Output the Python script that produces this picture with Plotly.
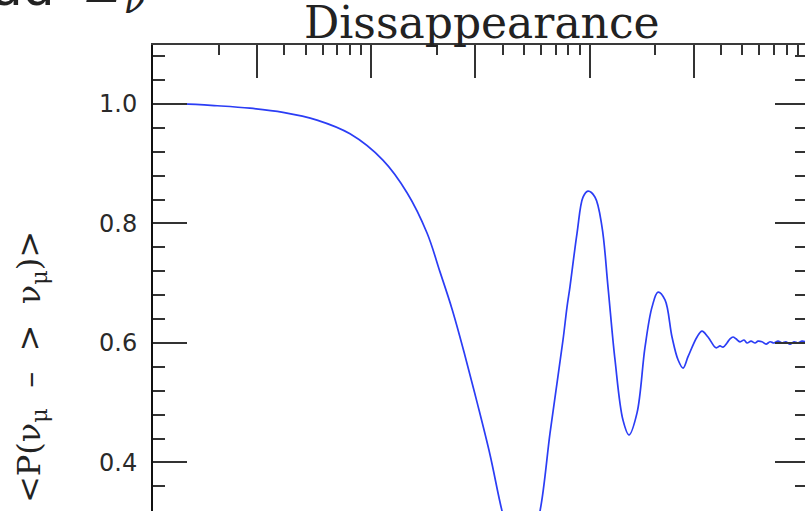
import plotly.graph_objects as go

# ---- data (L/E in arbitrary units, log axis) ----
l_over_e = [
    1.00, 1.37, 1.97, 2.78, 3.94, 5.64, 7.99, 11.3, 14.6, 18.0,
    20.64, 23.43, 26.59, 30.50, 34.98, 39.70, 44.11, 48.51, 53.88,
    59.28, 65.87, 70.91, 75.54, 78.79,
    81.3, 87.6, 93.3, 98.3, 105.9, 114.0, 121.4, 130.7, 142.2,
    151.5, 164.9, 179.4, 193.1, 205.8, 221.5, 238.5, 254.1, 267.9, 282.4,
    310.5, 327.3, 348.6, 379.3, 395.7, 408.5, 426.0, 439.8, 453.8, 468.4,
    488.7, 509.7, 526.1, 548.9, 572.5, 590.8, 616.3, 642.9, 670.6, 699.5,
    729.6, 761.0, 793.8, 828.0, 863.7, 900.8, 939.7, 980.2,
]
prob_mumu = [
    1.000, 1.000, 0.997, 0.993, 0.986, 0.973, 0.950, 0.906, 0.851, 0.784,
    0.719, 0.657, 0.585, 0.501, 0.413, 0.319, 0.260, 0.240, 0.265,
    0.319, 0.449, 0.533, 0.605, 0.660,
    0.694, 0.784, 0.844, 0.854, 0.844, 0.794, 0.694, 0.572, 0.471,
    0.446, 0.483, 0.593, 0.660, 0.685, 0.672, 0.610, 0.572, 0.558, 0.577,
    0.610, 0.620, 0.610, 0.592, 0.595, 0.593, 0.600, 0.607, 0.610, 0.607,
    0.602, 0.605, 0.600, 0.603, 0.600, 0.603, 0.602, 0.598, 0.602, 0.600,
    0.603, 0.600, 0.602, 0.598, 0.602, 0.600, 0.603, 0.602,
]

top_major_ticks = [1, 3, 10, 30, 100, 300, 1000]
top_minor_ticks = [2, 4, 5, 6, 7, 8, 9, 20, 40, 50, 60, 70, 80, 90,
                   200, 400, 500, 600, 700, 800, 900]
y_range = [0.3188, 1.0987]
x_log_range = [0.0, 2.9867]

title_text = "Dissappearance"
ytitle_text = "<P(ν<sub>μ</sub>\u00a0\u00a0–\u00a0\u00a0>\u00a0\u00a0ν<sub>μ</sub>)>"

W, H = 805, 511
L, T = 153, 45
PW, PH = W - L, H - T

def px_to_paper_x(px):
    return (px - L) / PW

def px_to_paper_y(py):
    return (H - py) / PH

fig = go.Figure()
fig.add_trace(go.Scatter(
    x=l_over_e, y=prob_mumu, mode="lines",
    line=dict(color="#2b3df5", width=1.7, shape="spline", smoothing=1.0),
    hoverinfo="skip", showlegend=False,
))
# empty trace so the right-hand (tick-only) axis is drawn
fig.add_trace(go.Scatter(x=[], y=[], yaxis="y2", mode="lines",
                         hoverinfo="skip", showlegend=False))

tick_col = "#333333"
fig.update_layout(
    width=W, height=H,
    margin=dict(l=L, r=0, t=T, b=0, pad=0),
    paper_bgcolor="white", plot_bgcolor="white",
    showlegend=False,
    xaxis=dict(
        type="log", range=x_log_range, side="top",
        showline=True, linecolor="#3a3a3a", linewidth=2,
        ticks="inside", ticklen=33, tickwidth=1.5, tickcolor=tick_col,
        tickmode="array", tickvals=top_major_ticks,
        showticklabels=False, showgrid=False, zeroline=False,
        minor=dict(tickmode="array", tickvals=top_minor_ticks,
                   ticks="inside", ticklen=10, tickwidth=1.5,
                   tickcolor=tick_col, showgrid=False),
    ),
    yaxis=dict(
        range=y_range, showline=True, linecolor="#111111", linewidth=2,
        ticks="inside", ticklen=34, tickwidth=1.5, tickcolor=tick_col,
        tick0=0, dtick=0.2, tickformat=".1f",
        tickfont=dict(family="DejaVu Sans", size=24, color="#2a2a2a"),
        ticklabelstandoff=9,
        showgrid=False, zeroline=False,
        minor=dict(dtick=0.04, tick0=0, ticks="inside", ticklen=12,
                   tickwidth=1.5, tickcolor=tick_col, showgrid=False),
    ),
    yaxis2=dict(
        range=y_range, overlaying="y", side="right", anchor="x",
        showline=False, ticks="inside", ticklen=30, tickwidth=1.5,
        tickcolor=tick_col, tick0=0, dtick=0.2, showticklabels=False,
        showgrid=False, zeroline=False,
        minor=dict(dtick=0.04, tick0=0, ticks="inside", ticklen=10,
                   tickwidth=1.5, tickcolor=tick_col, showgrid=False),
    ),
)

annotations = [
    dict(text=title_text, xref="paper", yref="paper",
         x=px_to_paper_x(481.5), y=px_to_paper_y(23),
         xanchor="center", yanchor="middle", showarrow=False,
         font=dict(family="DejaVu Serif", size=44, color="#222222")),
    dict(text=ytitle_text, xref="paper", yref="paper",
         x=px_to_paper_x(31), y=px_to_paper_y(367),
         xanchor="center", yanchor="middle", textangle=-90, showarrow=False,
         font=dict(family="DejaVu Serif", size=32, color="#222222")),
    dict(text="ad", xref="paper", yref="paper",
         x=px_to_paper_x(56), y=px_to_paper_y(-12),
         xanchor="right", yanchor="middle", showarrow=False,
         font=dict(family="DejaVu Sans", size=50, color="#222222")),
    dict(text="<i>E<sub>ν</sub></i>", xref="paper", yref="paper",
         x=px_to_paper_x(84), y=px_to_paper_y(-12),
         xanchor="left", yanchor="middle", showarrow=False,
         font=dict(family="DejaVu Serif", size=50, color="#222222")),
]
fig.update_layout(annotations=annotations)

fig.write_html("out.html")
